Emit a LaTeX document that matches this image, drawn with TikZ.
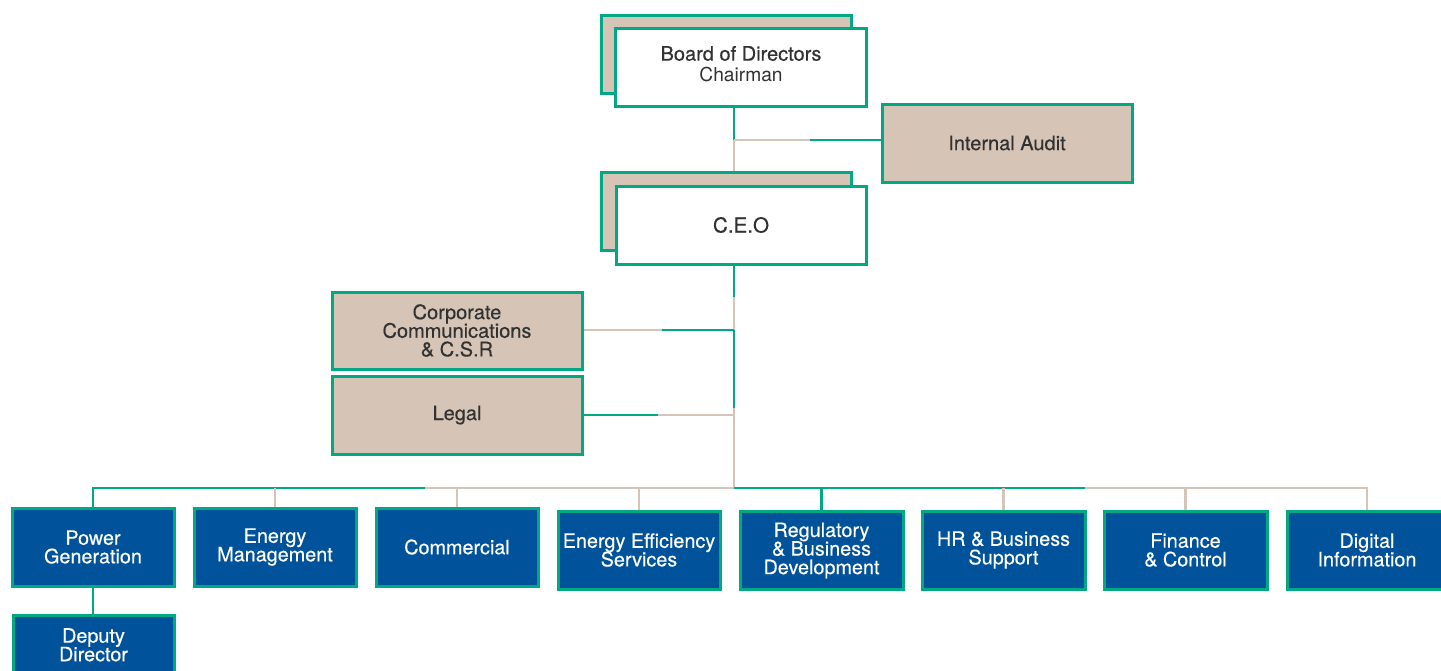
\documentclass[tikz,border=0pt]{standalone}
\usepackage{fontspec}
\setmainfont{TeX Gyre Heros}
\newfontfamily\medfont[FakeBold=0.35]{TeX Gyre Heros}
\usetikzlibrary{backgrounds}
\definecolor{grn}{RGB}{0,168,132}
\definecolor{bge}{RGB}{214,197,182}
\definecolor{blu}{RGB}{0,83,154}
\definecolor{txt}{RGB}{50,50,50}
\newcommand\tightls{\lineskiplimit-20pt\relax}
\begin{document}
\begin{tikzpicture}[x=0.5pt,y=-0.5pt,
  box/.style={draw=grn, line width=1.5pt, inner sep=0pt, align=center, text=txt,
    font=\medfont\fontsize{10}{9.3}\selectfont\tightls},
  wbox/.style={box, fill=white, minimum width=125pt, minimum height=39pt},
  bbox/.style={box, fill=bge, minimum width=125pt, minimum height=39pt},
  dbox/.style={box, fill=blu, text=white, minimum width=81pt, minimum height=39pt,
    font=\medfont\fontsize{9.9}{9.3}\selectfont\tightls},
  gline/.style={draw=grn, line width=1.2pt},
  tline/.style={draw=bge, line width=1.2pt}]
\useasboundingbox (0,0) rectangle (1441,670);

% junction coordinates
\coordinate (j1) at (734,140);
\coordinate (ja) at (810,140);
\coordinate (j2) at (734,297);
\coordinate (j3) at (734,330);
\coordinate (j4) at (734,408);
\coordinate (j5) at (734,488);
\coordinate (jc) at (662,330);
\coordinate (jl) at (658,415);
\coordinate (jl1) at (734,415);
\coordinate (bm1) at (425,488);
\coordinate (bm2) at (1085,488);

% nodes
\node[bbox] (boardsh) at (726,54) {};
\node[wbox, minimum width=125.5pt] (board) at (741,67) {};
\node[text=txt, align=center, inner sep=0pt, font=\fontsize{10}{10.5}\selectfont\tightls] (boardt) at (741,64)
  {{\medfont Board of Directors}\\{\fontsize{9.6}{10.5}\selectfont Chairman}};
\node[bbox] (ceosh) at (726,211.5) {};
\node[wbox, font=\medfont\fontsize{10.3}{11}\selectfont] (ceo) at (741,225) {C.E.O};
\node[bbox] (audit) at (1007,143) {Internal Audit};
\node[bbox, minimum height=38.5pt] (corp) at (457,330.5) {Corporate\\Communications\\\& C.S.R};
\node[bbox] (legal) at (457,415) {Legal};

\node[dbox] (pg) at (93,547) {Power\\Generation};
\node[dbox] (em) at (275,547) {Energy\\Management};
\node[dbox] (com) at (457,547) {Commercial};
\node[dbox] (ee) at (639,550) {Energy Efficiency\\Services};
\node[dbox, minimum width=81.5pt] (reg) at (821.5,550.5) {Regulatory\\\& Business\\Development};
\node[dbox, minimum width=81.5pt] (hr) at (1003.5,550) {HR \& Business\\Support};
\node[dbox, minimum width=81.5pt] (fin) at (1185.5,550) {Finance\\\& Control};
\node[dbox, minimum width=80pt] (dig) at (1367,550) {Digital\\Information};
\node[dbox, minimum width=80.5pt] (dep) at (93.5,654) {Deputy\\Director\\\phantom{x}};

% connectors (behind boxes)
\begin{scope}[on background layer]
  \draw[gline] (j1 |- board.south) -- (j1);
  \draw[tline] (j1) -- (j1 |- ceo.north);
  \draw[tline] (j1) -- (ja);
  \draw[gline] (ja) -- (ja -| audit.west);
  \draw[gline] (j2 |- ceo.south) -- (j2);
  \draw[tline] (j2) -- (j3);
  \draw[gline] (j3) -- (j4);
  \draw[tline] (j4) -- (j5);
  \draw[tline] (jc -| corp.east) -- (jc);
  \draw[gline] (jc) -- (j3);
  \draw[gline] (jl -| legal.east) -- (jl);
  \draw[tline] (jl) -- (jl1);
  \draw[gline] (pg.north) |- (bm1);
  \draw[tline] (bm1) -- (j5);
  \draw[gline] (j5) -- (bm2);
  \draw[tline] (bm2) -| (dig.north);
  \draw[tline] (em.north) -- (em.north |- j5);
  \draw[tline] (com.north) -- (com.north |- j5);
  \draw[tline] (ee.north) -- (ee.north |- j5);
  \draw[gline] (reg.north) -- (reg.north |- j5);
  \draw[tline] (hr.north) -- (hr.north |- j5);
  \draw[tline] (fin.north) -- (fin.north |- j5);
  \draw[gline] (pg.south) -- (pg.south |- dep.north);
\end{scope}
\end{tikzpicture}
\end{document}
